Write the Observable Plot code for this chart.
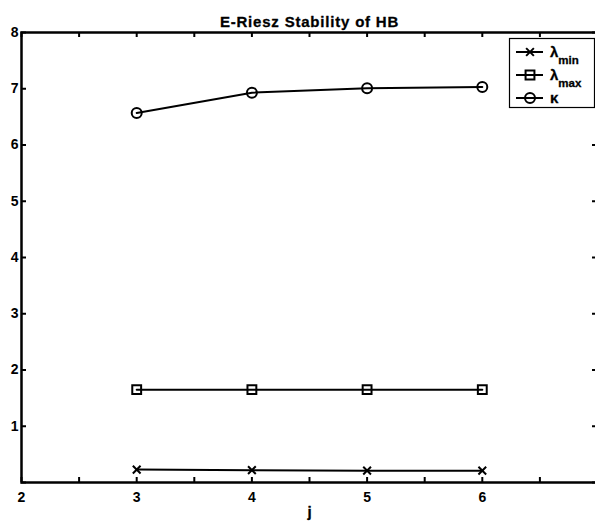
<!DOCTYPE html>
<html>
<head>
<meta charset="utf-8">
<script src="https://cdn.jsdelivr.net/npm/d3@7"></script>
<script src="https://cdn.jsdelivr.net/npm/@observablehq/plot@0.6"></script>
<style>
  html, body { margin: 0; padding: 0; background: #fff; overflow: hidden; }
  #wrap { position: relative; width: 595px; height: 525px; }
  #legend { position: absolute; left: 0; top: 0; pointer-events: none; }
</style>
</head>
<body>
<div id="wrap"></div>
<script>
// Level j and the Riesz-bound estimates at each level
const j = [3, 4, 5, 6];
const lambdaMin = [0.23, 0.22, 0.21, 0.21];
const lambdaMax = [1.65, 1.65, 1.65, 1.65];
const kappa = [6.57, 6.93, 7.01, 7.03];

const seriesKeys = ["lambdaMin", "lambdaMax", "kappa"];
const seriesValues = [lambdaMin, lambdaMax, kappa];
const legendBase = ["λ", "λ", "κ"];
const legendSub = ["min", "max", ""];
const seriesSymbols = ["times", "square", "circle"];

const xTicks = [2, 2.5, 3, 3.5, 4, 4.5, 5, 5.5, 6, 6.5, 7];
const xTickLabels = [2, 3, 4, 5, 6];
const yTicks = [0, 1, 2, 3, 4, 5, 6, 7, 8];
const yTickLabels = [1, 2, 3, 4, 5, 6, 7, 8];

const title = "E-Riesz Stability of HB";
const xLabel = "j";

const rows = seriesKeys.flatMap((s, k) =>
  j.map((x, i) => ({ s, j: x, v: seriesValues[k][i] }))
);

const W = 595, H = 525;
const mL = 21, mR = -2, mT = 32, mB = 43;
const fw = W - mL - mR, fh = H - mT - mB;
const font = "'Liberation Sans', Arial, Helvetica, sans-serif";
const symbolR = { times: 3.6, square: 5, circle: 5 };

const chart = Plot.plot({
  width: W,
  height: H,
  marginLeft: mL,
  marginRight: mR,
  marginTop: mT,
  marginBottom: mB,
  style: { fontFamily: font, fontWeight: "bold", fontSize: "14px", background: "#fff", color: "#000", overflow: "visible" },
  x: { domain: [2, 7] },
  y: { domain: [0, 8] },
  marks: [
    // inward ticks on all four sides
    Plot.tickX(xTicks, { x: d => d, insetTop: fh - 5, stroke: "#000", strokeWidth: 2 }),
    Plot.tickX(xTicks, { x: d => d, insetBottom: fh - 5, stroke: "#000", strokeWidth: 2 }),
    Plot.tickY(yTicks, { y: d => d, insetRight: fw - 5, stroke: "#000", strokeWidth: 2 }),
    Plot.tickY(yTicks, { y: d => d, insetLeft: fw - 5, stroke: "#000", strokeWidth: 2 }),
    Plot.axisX(xTickLabels, { tickSize: 0, tickPadding: 10, label: null, tickFormat: "d", fontSize: 14, stroke: "#000", strokeWidth: 0.35 }),
    Plot.axisY(yTickLabels, { tickSize: 0, tickPadding: 3, label: null, tickFormat: "d", fontSize: 14, stroke: "#000", strokeWidth: 0.35 }),
    Plot.frame({ stroke: "#000", strokeWidth: 2.5 }),
    Plot.line(rows, { x: "j", y: "v", z: "s", stroke: "#000", strokeWidth: 2 }),
    ...seriesKeys.map((s, k) =>
      Plot.dot(rows.filter(d => d.s === s), {
        x: "j", y: "v",
        symbol: seriesSymbols[k],
        r: symbolR[seriesSymbols[k]],
        stroke: "#000", strokeWidth: 2, fill: "none"
      })
    ),
    Plot.text([title], {
      frameAnchor: "top", dy: -16, fontSize: 15, fontWeight: "bold",
      stroke: "#000", strokeWidth: 0.3, fill: "#000",
      render(index, scales, values, dimensions, context, next) {
        const g = next(index, scales, values, dimensions, context);
        d3.select(g).selectAll("text").style("letter-spacing", "0.8px");
        return g;
      }
    }),
    Plot.text([xLabel], { frameAnchor: "bottom", dy: 34, fontSize: 15, fontWeight: "bold", stroke: "#000", strokeWidth: 0.3, fill: "#000" })
  ]
});

const wrap = document.getElementById("wrap");
wrap.appendChild(chart);

// Legend box in the upper right corner of the axes
const legend = d3.select(wrap).append("svg")
  .attr("id", "legend")
  .attr("width", W).attr("height", H)
  .style("font-family", font).style("font-weight", "bold");

const box = { x: 509.5, y: 38.5, w: 85, h: 69 };
legend.append("rect")
  .attr("x", box.x).attr("y", box.y).attr("width", box.w).attr("height", box.h)
  .attr("fill", "#fff").attr("stroke", "#000").attr("stroke-width", 1.2);

const rowY = [52, 75, 98];
const textY = [57, 80, 103];
const d3Symbols = { times: d3.symbolTimes, square: d3.symbolSquare, circle: d3.symbolCircle };

seriesKeys.forEach((s, k) => {
  const g = legend.append("g");
  g.append("line")
    .attr("x1", 516).attr("x2", 543).attr("y1", rowY[k]).attr("y2", rowY[k])
    .attr("stroke", "#000").attr("stroke-width", 2);
  const r = symbolR[seriesSymbols[k]];
  g.append("path")
    .attr("transform", `translate(530,${rowY[k]})`)
    .attr("d", d3.symbol(d3Symbols[seriesSymbols[k]], Math.PI * r * r)())
    .attr("fill", "none").attr("stroke", "#000").attr("stroke-width", 2);
  const t = g.append("text").attr("x", 550).attr("y", textY[k]).attr("font-size", 15)
    .attr("stroke", "#000").attr("stroke-width", 0.3);
  t.append("tspan").text(legendBase[k]);
  if (legendSub[k]) {
    t.append("tspan").attr("font-size", 11.5).attr("dy", 7).text(legendSub[k]);
  }
});
</script>
</body>
</html>
